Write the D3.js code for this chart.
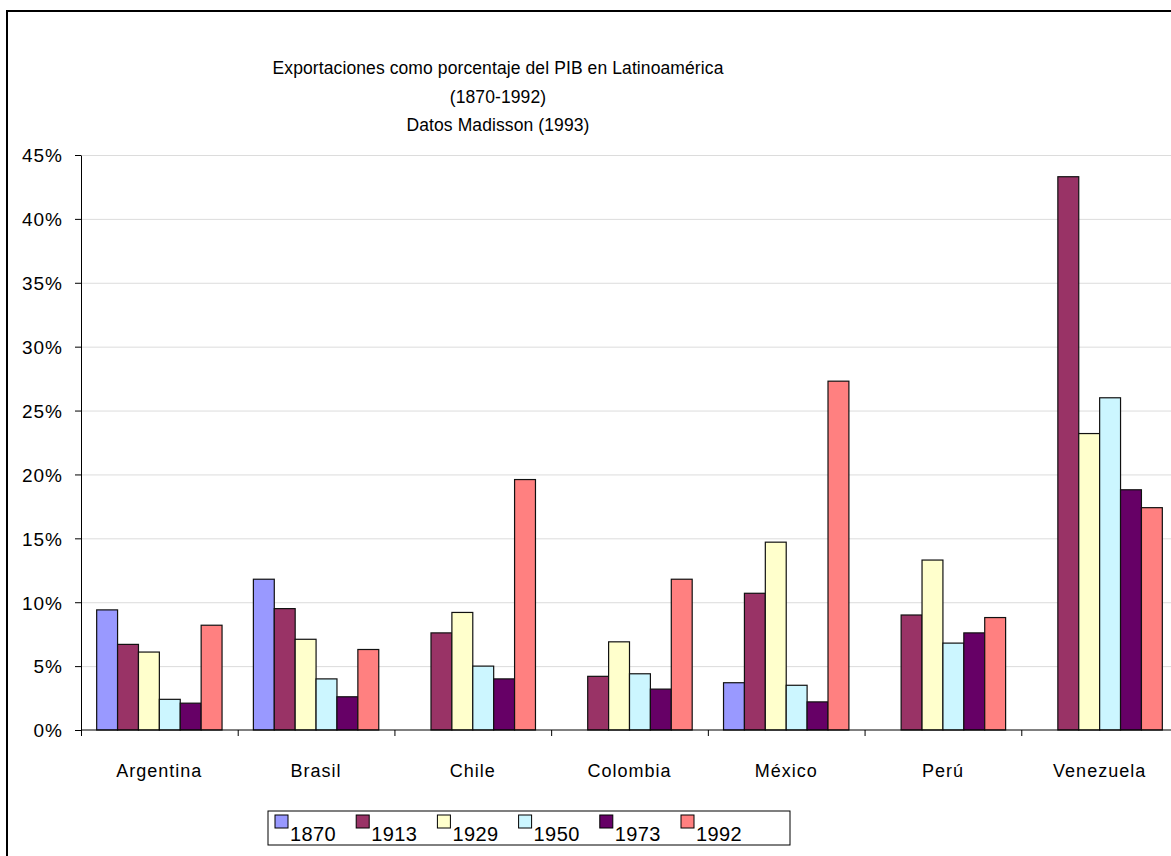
<!DOCTYPE html>
<html lang="es">
<head>
  <meta charset="UTF-8">
  <title>Exportaciones como porcentaje del PIB</title>
  <script src="https://d3js.org/d3.v7.min.js"></script>
  <style>
    body { margin: 0; background: #fff; }
    text { font-family: Arial, "Liberation Sans", sans-serif; fill: #000; }
  </style>
</head>
<body>
  <svg id="chart" width="1171" height="856"></svg>
  <script>
    // data (percent of GDP)
    const countries = ['Argentina', 'Brasil', 'Chile', 'Colombia', 'México', 'Perú', 'Venezuela'];
    const years = ['1870', '1913', '1929', '1950', '1973', '1992'];
    const v1870 = [9.4, 11.8, null, null, 3.7, null, null];
    const v1913 = [6.7, 9.5, 7.6, 4.2, 10.7, 9.0, 43.3];
    const v1929 = [6.1, 7.1, 9.2, 6.9, 14.7, 13.3, 23.2];
    const v1950 = [2.4, 4.0, 5.0, 4.4, 3.5, 6.8, 26.0];
    const v1973 = [2.1, 2.6, 4.0, 3.2, 2.2, 7.6, 18.8];
    const v1992 = [8.2, 6.3, 19.6, 11.8, 27.3, 8.8, 17.4];
    const yTicks = [0, 5, 10, 15, 20, 25, 30, 35, 40, 45];
    const titleLines = ['Exportaciones como porcentaje del PIB en Latinoamérica', '(1870-1992)', 'Datos Madisson (1993)'];

    const series = [v1870, v1913, v1929, v1950, v1973, v1992];
    const colors = ['#9999FF', '#993366', '#FFFFCC', '#CCF6FF', '#660066', '#FF8080'];

    const svg = d3.select('svg#chart');
    const plot = { left: 81, right: 1178, top: 155, bottom: 730 };

    // chart area border (runs off the right and bottom of the picture)
    svg.append('rect')
      .attr('x', 7).attr('y', 11)
      .attr('width', 1300).attr('height', 1000)
      .attr('fill', 'none').attr('stroke', '#000').attr('stroke-width', 2);

    // title
    svg.append('g').attr('id', 'title')
      .selectAll('text').data(titleLines).join('text')
      .attr('x', 498)
      .attr('y', (d, i) => 74 + i * 28.5)
      .attr('text-anchor', 'middle')
      .style('font-size', '17.5px')
      .style('letter-spacing', '0.1px')
      .text(d => d);

    // scales
    const xScale = d3.scaleBand().domain(countries).range([plot.left, plot.right]);
    const xInner = d3.scaleBand().domain(years).range([0, xScale.bandwidth()]).paddingOuter(0.75);
    const yScale = d3.scaleLinear().domain([0, 45]).range([plot.bottom, plot.top]);

    // gridlines
    let gridlines = d3.axisLeft(yScale)
      .tickValues(yTicks.slice(1))
      .tickSize(-(plot.right - plot.left))
      .tickFormat('');
    svg.append('g')
      .attr('class', 'y-gridlines')
      .attr('transform', 'translate(' + plot.left + ',0)')
      .call(gridlines)
      .call(g => g.select('.domain').remove())
      .call(g => g.selectAll('line').attr('stroke', '#dcdcdc'));

    // bars
    const barData = [];
    series.forEach((vals, si) => {
      vals.forEach((v, ci) => {
        if (v !== null) barData.push({ country: countries[ci], year: years[si], value: v, color: colors[si] });
      });
    });

    svg.append('g').attr('id', 'bars')
      .selectAll('rect').data(barData).join('rect')
      .attr('x', d => xScale(d.country) + xInner(d.year))
      .attr('y', d => yScale(d.value))
      .attr('width', xInner.bandwidth())
      .attr('height', d => yScale(0) - yScale(d.value))
      .attr('fill', d => d.color)
      .attr('stroke', '#111')
      .attr('stroke-width', 1.2);

    // y axis
    let leftAxis = d3.axisLeft(yScale)
      .tickValues(yTicks)
      .tickSizeInner(6)
      .tickSizeOuter(0)
      .tickPadding(12)
      .tickFormat(d => d + '%');
    svg.append('g')
      .attr('class', 'y-axis')
      .attr('transform', 'translate(' + plot.left + ',0)')
      .call(leftAxis)
      .call(g => g.selectAll('path, line').attr('stroke', '#000'))
      .call(g => g.selectAll('text')
        .style('font-size', '19px')
        .style('letter-spacing', '1px')
        .attr('dy', '0.36em'));

    // x axis: line with ticks on the category boundaries
    const edges = countries.map(c => xScale(c)).concat([plot.right]);
    let edgeAxis = d3.axisBottom(d3.scaleIdentity())
      .tickValues(edges)
      .tickSizeInner(6)
      .tickSizeOuter(0)
      .tickFormat('');
    svg.append('g')
      .attr('class', 'x-axis')
      .attr('transform', 'translate(0,' + plot.bottom + ')')
      .call(edgeAxis)
      .call(g => g.select('.domain').attr('d', 'M' + plot.left + ',0H' + plot.right))
      .call(g => g.selectAll('path, line').attr('stroke', '#000'));

    // category labels
    svg.append('g').attr('class', 'x-labels')
      .selectAll('text').data(countries).join('text')
      .attr('x', d => xScale(d) + xScale.bandwidth() / 2)
      .attr('y', 777)
      .attr('text-anchor', 'middle')
      .style('font-size', '18px')
      .style('letter-spacing', '1px')
      .text(d => d);

    // legend
    const legend = svg.append('g').attr('id', 'legend');
    legend.append('rect')
      .attr('x', 268).attr('y', 811)
      .attr('width', 522).attr('height', 34)
      .attr('fill', '#fff').attr('stroke', '#000').attr('stroke-width', 1);

    const items = legend.selectAll('g.item').data(years).join('g')
      .attr('class', 'item')
      .attr('transform', (d, i) => 'translate(' + (275 + i * 81.2) + ',0)');
    items.append('rect')
      .attr('x', 0).attr('y', 815)
      .attr('width', 13).attr('height', 13)
      .attr('fill', (d, i) => colors[i])
      .attr('stroke', '#000');
    items.append('text')
      .attr('x', 15).attr('y', 841)
      .style('font-size', '20px')
      .style('letter-spacing', '0.4px')
      .text(d => d);
  </script>
</body>
</html>
